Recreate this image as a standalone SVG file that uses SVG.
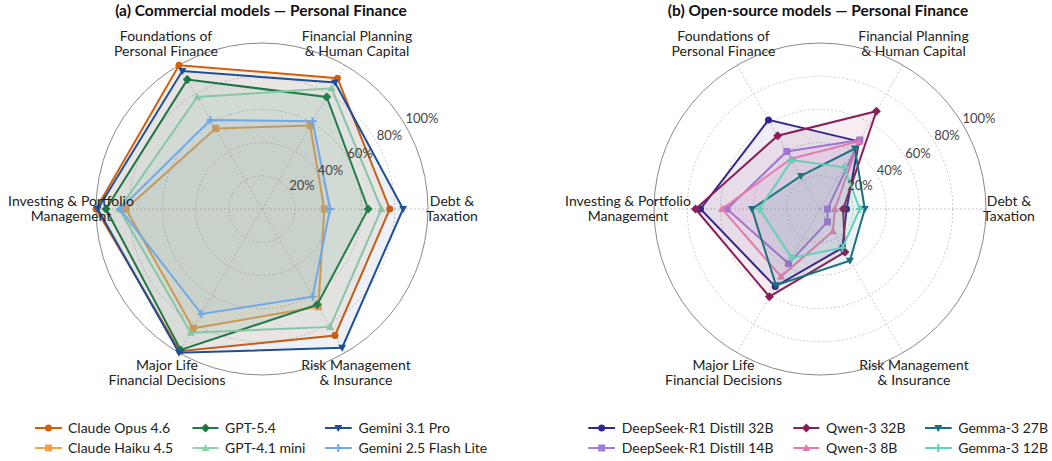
<svg xmlns="http://www.w3.org/2000/svg" width="1052" height="461" viewBox="0 0 1052 461">
<style>
text{font-family:Lato,"Noto Sans","Liberation Sans",sans-serif;fill:#222}
.title{font-size:15.5px;font-weight:bold;text-anchor:middle;fill:#111}
.ax{font-size:14px;text-anchor:middle}
.rl{font-size:13px;fill:#444;text-anchor:middle}
.leg{font-size:14px}
.ring{fill:none;stroke:#bdbdbd;stroke-width:0.8;stroke-dasharray:2 2}
.spoke{stroke:#bdbdbd;stroke-width:0.8;stroke-dasharray:2 2}
.outer{fill:none;stroke:#8a8a8a;stroke-width:1}
.s{stroke-width:2;stroke-linejoin:miter;fill-opacity:0.08}
.ll{fill:none;stroke-width:2}
</style>
<defs>
<marker id="m-opus" markerUnits="userSpaceOnUse" markerWidth="10" markerHeight="10" refX="5" refY="5" overflow="visible"><circle cx="5" cy="5" r="3.5" fill="#d35f0a"/></marker>
<marker id="m-haiku" markerUnits="userSpaceOnUse" markerWidth="10" markerHeight="10" refX="5" refY="5" overflow="visible"><rect x="1.5" y="1.5" width="7" height="7" fill="#f2a04a"/></marker>
<marker id="m-gpt54" markerUnits="userSpaceOnUse" markerWidth="10" markerHeight="10" refX="5" refY="5" overflow="visible"><path d="M5,0.5 L9.5,5 L5,9.5 L0.5,5 Z" fill="#1d7a3c"/></marker>
<marker id="m-gpt41" markerUnits="userSpaceOnUse" markerWidth="10" markerHeight="10" refX="5" refY="5" overflow="visible"><path d="M5,1 L9,8 L1,8 Z" fill="#8fd1a9"/></marker>
<marker id="m-gem31" markerUnits="userSpaceOnUse" markerWidth="10" markerHeight="10" refX="5" refY="5" overflow="visible"><path d="M1,2 L9,2 L5,9 Z" fill="#1f4f96"/></marker>
<marker id="m-gem25" markerUnits="userSpaceOnUse" markerWidth="10" markerHeight="10" refX="5" refY="5" overflow="visible"><path d="M4,1 H6 V4 H9 V6 H6 V9 H4 V6 H1 V4 H4 Z" fill="#70a8e6"/></marker>
<marker id="m-ds32" markerUnits="userSpaceOnUse" markerWidth="10" markerHeight="10" refX="5" refY="5" overflow="visible"><circle cx="5" cy="5" r="3.5" fill="#30288e"/></marker>
<marker id="m-ds14" markerUnits="userSpaceOnUse" markerWidth="10" markerHeight="10" refX="5" refY="5" overflow="visible"><rect x="1.5" y="1.5" width="7" height="7" fill="#a07ddc"/></marker>
<marker id="m-qw32" markerUnits="userSpaceOnUse" markerWidth="10" markerHeight="10" refX="5" refY="5" overflow="visible"><path d="M5,0.5 L9.5,5 L5,9.5 L0.5,5 Z" fill="#8a1e57"/></marker>
<marker id="m-qw8" markerUnits="userSpaceOnUse" markerWidth="10" markerHeight="10" refX="5" refY="5" overflow="visible"><path d="M5,1 L9,8 L1,8 Z" fill="#e27cae"/></marker>
<marker id="m-gm27" markerUnits="userSpaceOnUse" markerWidth="10" markerHeight="10" refX="5" refY="5" overflow="visible"><path d="M1,2 L9,2 L5,9 Z" fill="#1c6f7e"/></marker>
<marker id="m-gm12" markerUnits="userSpaceOnUse" markerWidth="10" markerHeight="10" refX="5" refY="5" overflow="visible"><path d="M4,1 H6 V4 H9 V6 H6 V9 H4 V6 H1 V4 H4 Z" fill="#66cfb7"/></marker>
</defs>
<rect width="1052" height="461" fill="#ffffff"/>

<!-- ===== Chart (a) ===== -->
<g id="chart-a">
<text class="title" x="261" y="15.5">(a) Commercial models — Personal Finance</text>
<g id="grid-a">
<circle class="ring" cx="262" cy="209" r="33.2"/>
<circle class="ring" cx="262" cy="209" r="66.4"/>
<circle class="ring" cx="262" cy="209" r="99.6"/>
<circle class="ring" cx="262" cy="209" r="132.8"/>
<line class="spoke" x1="262" y1="209" x2="428" y2="209"/>
<line class="spoke" x1="262" y1="209" x2="345" y2="65.2"/>
<line class="spoke" x1="262" y1="209" x2="179" y2="65.2"/>
<line class="spoke" x1="262" y1="209" x2="96" y2="209"/>
<line class="spoke" x1="262" y1="209" x2="179" y2="352.8"/>
<line class="spoke" x1="262" y1="209" x2="345" y2="352.8"/>
<circle class="outer" cx="262" cy="209" r="166"/>
</g>
<g id="series-a">
<polygon id="claude-opus-4-6" class="s" fill="#d35f0a" stroke="#d35f0a" marker-start="url(#m-opus)" marker-mid="url(#m-opus)" points="389.8,209 337.5,78.2 179,65.2 96,209 179.8,351.3 335,335.5"/>
<polygon id="claude-haiku-4-5" class="s" fill="#f2a04a" stroke="#f2a04a" marker-start="url(#m-haiku)" marker-mid="url(#m-haiku)" points="324.3,209 310.1,125.6 215.5,128.5 125.9,209 193.1,328.3 318.4,306.8"/>
<polygon id="gpt-5-4" class="s" fill="#1d7a3c" stroke="#1d7a3c" marker-start="url(#m-gpt54)" marker-mid="url(#m-gpt54)" points="368.2,209 326.7,96.9 187.3,79.6 106,209 180.7,349.9 317.2,304.6"/>
<polygon id="gpt-4-1-mini" class="s" fill="#8fd1a9" stroke="#8fd1a9" marker-start="url(#m-gpt41)" marker-mid="url(#m-gpt41)" points="381.5,209 331.7,88.3 197.3,96.9 119.2,209 190.6,332.7 330.1,326.9"/>
<polygon id="gemini-3-1-pro" class="s" fill="#1f4f96" stroke="#1f4f96" marker-start="url(#m-gem31)" marker-mid="url(#m-gem31)" points="403.1,209 335,82.5 182.3,71 97.7,209 179,352.8 342.1,347.7"/>
<polygon id="gemini-2-5-flash-lite" class="s" fill="#70a8e6" stroke="#70a8e6" marker-start="url(#m-gem25)" marker-mid="url(#m-gem25)" points="330.1,209 312.6,121.3 210.5,119.9 120.1,209 201.4,314 312.6,296.7"/>
</g>
<g id="rlabels-a">
<text class="rl" x="302" y="189.5">20%</text>
<text class="rl" x="330.5" y="174.5">40%</text>
<text class="rl" x="360" y="157.5">60%</text>
<text class="rl" x="389.5" y="139.5">80%</text>
<text class="rl" x="422" y="122.5">100%</text>
</g>
<g id="axes-a">
<text class="ax" x="166" y="41">Foundations of</text>
<text class="ax" x="166" y="56">Personal Finance</text>
<text class="ax" x="357" y="41">Financial Planning</text>
<text class="ax" x="357" y="56">&amp; Human Capital</text>
<text class="ax" x="71" y="206">Investing &amp; Portfolio</text>
<text class="ax" x="71" y="221">Management</text>
<text class="ax" x="452" y="206">Debt &amp;</text>
<text class="ax" x="452" y="221">Taxation</text>
<text class="ax" x="167" y="370">Major Life</text>
<text class="ax" x="167" y="385">Financial Decisions</text>
<text class="ax" x="356" y="370">Risk Management</text>
<text class="ax" x="356" y="385">&amp; Insurance</text>
</g>
<g id="legend-a">
<path class="ll" stroke="#d35f0a" d="M35,428 H48.5 H62" marker-mid="url(#m-opus)"/>
<text class="leg" x="68" y="433">Claude Opus 4.6</text>
<path class="ll" stroke="#f2a04a" d="M35,448 H48.5 H62" marker-mid="url(#m-haiku)"/>
<text class="leg" x="68" y="453">Claude Haiku 4.5</text>
<path class="ll" stroke="#1d7a3c" d="M192.5,428 H205.5 H218.5" marker-mid="url(#m-gpt54)"/>
<text class="leg" x="225" y="433">GPT-5.4</text>
<path class="ll" stroke="#8fd1a9" d="M192.5,448 H205.5 H218.5" marker-mid="url(#m-gpt41)"/>
<text class="leg" x="225" y="453">GPT-4.1 mini</text>
<path class="ll" stroke="#1f4f96" d="M325,428 H338.3 H351.7" marker-mid="url(#m-gem31)"/>
<text class="leg" x="358.5" y="433">Gemini 3.1 Pro</text>
<path class="ll" stroke="#70a8e6" d="M325,448 H338.3 H351.7" marker-mid="url(#m-gem25)"/>
<text class="leg" x="358.5" y="453">Gemini 2.5 Flash Lite</text>
</g>
</g>

<!-- ===== Chart (b) ===== -->
<g id="chart-b">
<text class="title" x="818" y="15.5">(b) Open-source models — Personal Finance</text>
<g id="grid-b">
<circle class="ring" cx="820" cy="209" r="33.2"/>
<circle class="ring" cx="820" cy="209" r="66.4"/>
<circle class="ring" cx="820" cy="209" r="99.6"/>
<circle class="ring" cx="820" cy="209" r="132.8"/>
<line class="spoke" x1="820" y1="209" x2="986" y2="209"/>
<line class="spoke" x1="820" y1="209" x2="903" y2="65.2"/>
<line class="spoke" x1="820" y1="209" x2="737" y2="65.2"/>
<line class="spoke" x1="820" y1="209" x2="654" y2="209"/>
<line class="spoke" x1="820" y1="209" x2="737" y2="352.8"/>
<line class="spoke" x1="820" y1="209" x2="903" y2="352.8"/>
<circle class="outer" cx="820" cy="209" r="166"/>
</g>
<g id="series-b">
<polygon id="deepseek-r1-distill-32b" class="s" fill="#30288e" stroke="#30288e" marker-start="url(#m-ds32)" marker-mid="url(#m-ds32)" points="846.6,209 859,141.4 768.5,119.9 700.5,209 775.2,286.6 842.4,247.8"/>
<polygon id="deepseek-r1-distill-14b" class="s" fill="#a07ddc" stroke="#a07ddc" marker-start="url(#m-ds14)" marker-mid="url(#m-ds14)" points="827.5,209 859.8,140 786.8,151.5 727,209 788.5,263.6 827.5,221.9"/>
<polygon id="qwen-3-32b" class="s" fill="#8a1e57" stroke="#8a1e57" marker-start="url(#m-qw32)" marker-mid="url(#m-qw32)" points="843.2,209 876.4,111.2 777.7,135.7 695.5,209 769.4,296.7 844.9,252.1"/>
<polygon id="qwen-3-8b" class="s" fill="#e27cae" stroke="#e27cae" marker-start="url(#m-qw8)" marker-mid="url(#m-qw8)" points="834.9,209 859,141.4 791,158.7 722.1,209 781,276.6 832.9,231.3"/>
<polygon id="gemma-3-27b" class="s" fill="#1c6f7e" stroke="#1c6f7e" marker-start="url(#m-gm27)" marker-mid="url(#m-gm27)" points="864.8,209 854.9,148.6 800.9,175.9 751.9,209 776,285.2 849.9,260.8"/>
<polygon id="gemma-3-12b" class="s" fill="#66cfb7" stroke="#66cfb7" marker-start="url(#m-gm12)" marker-mid="url(#m-gm12)" points="859.8,209 844.1,167.3 791.8,160.1 759.4,209 791.8,257.9 842.4,247.8"/>
</g>
<g id="rlabels-b">
<text class="rl" x="860" y="189.5">20%</text>
<text class="rl" x="889.5" y="174.5">40%</text>
<text class="rl" x="918" y="157.5">60%</text>
<text class="rl" x="947" y="139.5">80%</text>
<text class="rl" x="979" y="122.5">100%</text>
</g>
<g id="axes-b">
<text class="ax" x="723.5" y="41">Foundations of</text>
<text class="ax" x="723.5" y="56">Personal Finance</text>
<text class="ax" x="913.5" y="41">Financial Planning</text>
<text class="ax" x="913.5" y="56">&amp; Human Capital</text>
<text class="ax" x="628" y="206">Investing &amp; Portfolio</text>
<text class="ax" x="628" y="221">Management</text>
<text class="ax" x="1009" y="206">Debt &amp;</text>
<text class="ax" x="1009" y="221">Taxation</text>
<text class="ax" x="723.5" y="370">Major Life</text>
<text class="ax" x="723.5" y="385">Financial Decisions</text>
<text class="ax" x="914" y="370">Risk Management</text>
<text class="ax" x="914" y="385">&amp; Insurance</text>
</g>
<g id="legend-b">
<path class="ll" stroke="#30288e" d="M588.3,428 H601.7 H615" marker-mid="url(#m-ds32)"/>
<text class="leg" x="621.7" y="433">DeepSeek-R1 Distill 32B</text>
<path class="ll" stroke="#a07ddc" d="M588.3,448 H601.7 H615" marker-mid="url(#m-ds14)"/>
<text class="leg" x="621.7" y="453">DeepSeek-R1 Distill 14B</text>
<path class="ll" stroke="#8a1e57" d="M793.3,428 H806.3 H819.3" marker-mid="url(#m-qw32)"/>
<text class="leg" x="826" y="433">Qwen-3 32B</text>
<path class="ll" stroke="#e27cae" d="M793.3,448 H806.3 H819.3" marker-mid="url(#m-qw8)"/>
<text class="leg" x="826" y="453">Qwen-3 8B</text>
<path class="ll" stroke="#1c6f7e" d="M925,428 H938.3 H951.7" marker-mid="url(#m-gm27)"/>
<text class="leg" x="958.3" y="433">Gemma-3 27B</text>
<path class="ll" stroke="#66cfb7" d="M925,448 H938.3 H951.7" marker-mid="url(#m-gm12)"/>
<text class="leg" x="958.3" y="453">Gemma-3 12B</text>
</g>
</g>
</svg>
